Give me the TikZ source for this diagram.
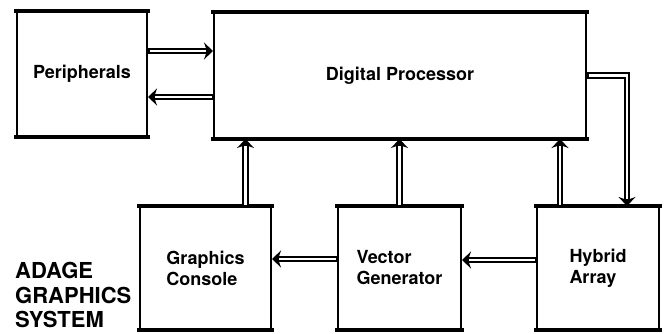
\documentclass[tikz,border=0pt]{standalone}
\usepackage{fontspec}
\setmainfont{TeX Gyre Heros}
\usepackage{tikz}
\usetikzlibrary{arrows.meta}

\begin{document}
\begin{tikzpicture}[
x=1pt, y=-1pt,
box/.style={draw, line width=2pt, align=left, inner sep=0pt,
  font=\fontsize{18}{21}\selectfont\bfseries},
edge/.style={line width=4.5pt, line cap=rect},
arr/.style={line width=6.5pt, -{Stealth[length=9pt, width=17pt, inset=3pt]},
  postaction={draw=white, line width=2.4pt, shorten >=7pt, shorten <=1.5pt, -}},
title/.style={align=left, inner sep=0pt, font=\fontsize{22}{24.5}\selectfont\bfseries}
]
\useasboundingbox (0,0) rectangle (667,334);
\node[box, minimum width=130pt, minimum height=124pt] (per) at (82,74) {Peripherals};
\node[box, minimum width=372pt, minimum height=125pt] (dp) at (400,75.5) {Digital Processor};
\node[box, minimum width=131pt, minimum height=122pt] (gc) at (205.5,268) {Graphics\\Console};
\node[box, minimum width=123pt, minimum height=122pt] (vg) at (399.5,268) {Vector\\Generator};
\node[box, minimum width=122pt, minimum height=122pt] (ha) at (598,268) {Hybrid\\Array};
\node[title, anchor=south west] (name) at (15,328) {ADAGE\\GRAPHICS\\SYSTEM};
% heavy top and bottom rules
\foreach \n in {per,dp,gc,vg,ha} {
  \draw[edge] (\n.north west) -- (\n.north east);
  \draw[edge] (\n.south west) -- (\n.south east);
}
\draw[arr] ([yshift=23pt]per.east) -- ([yshift=23pt]per.east -| dp.west);
\draw[arr] ([yshift=-23pt]per.east -| dp.west) -- ([yshift=-23pt]per.east);
\draw[arr] ([xshift=40pt]gc.north) -- ([xshift=40pt]gc.north |- dp.south);
\draw[arr] (vg.north) -- (vg.north |- dp.south);
\draw[arr] ([xshift=-38pt]ha.north) -- ([xshift=-38pt]ha.north |- dp.south);
\draw[arr] (dp.east) -| ([xshift=29pt]ha.north);
\draw[arr] ([yshift=9pt]vg.west) -- ([yshift=9pt]vg.west -| gc.east);
\draw[arr] ([yshift=8pt]ha.west) -- ([yshift=8pt]ha.west -| vg.east);
\end{tikzpicture}
\end{document}
